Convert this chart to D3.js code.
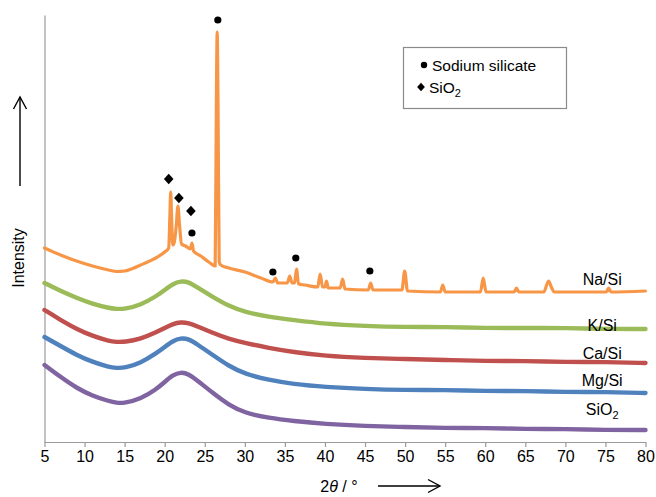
<!DOCTYPE html>
<html><head><meta charset="utf-8">
<script src="https://cdn.jsdelivr.net/npm/d3@7"></script>
<style>
html,body{margin:0;padding:0;background:#fff;}
svg text{font-family:"Liberation Sans",Arial,sans-serif;fill:#000;}
</style></head>
<body><svg id="c" width="656" height="497"></svg>
<script>
// ---- data (2θ in degrees, intensity in arbitrary counts, curves offset for display) ----
const thetaAmorph = [5,7,9,11,13,14,15,17,19,20,21,22,23,24,26,28,30,33,36,40,45,50,55,60,65,70,75,80];
const kSi  = [1590,1510,1440,1380,1340,1330,1330,1370,1460,1520,1580,1610,1600,1550,1450,1360,1300,1250,1220,1180,1160,1150,1150,1140,1140,1140,1130,1130];
const caSi = [1320,1220,1130,1060,1010,1000,1000,1030,1100,1140,1180,1200,1190,1160,1090,1030,990,940,900,860,840,830,820,810,810,800,800,790];
const mgSi = [1050,960,870,800,750,740,740,790,890,950,1010,1040,1030,980,870,760,680,620,580,550,530,520,520,510,510,500,500,490];
const sio2 = [770,650,540,460,410,390,390,430,530,600,670,700,680,620,490,370,290,240,210,180,160,150,140,140,130,130,120,120];

const thetaNa = [5,7,9,11,13,14,15,16,17,18,19,20,20.5,20.65,20.75,20.85,21.0,21.2,21.45,21.65,21.85,22.1,22.6,23.2,23.4,23.6,24.5,25.5,26.3,26.45,26.55,26.65,26.8,27,28,30,32,33.5,33.8,34.1,35.3,35.6,35.9,36.2,36.45,36.7,37.5,39.1,39.4,39.7,40.0,40.2,40.4,41.9,42.2,42.5,45.4,45.7,46.0,49.6,49.95,50.3,54.4,54.7,55.0,59.4,59.75,60.1,63.6,63.9,64.2,67.3,67.9,68.3,68.6,75.1,75.4,75.7,80];
const naSi = [1940,1870,1810,1760,1720,1705,1710,1735,1770,1805,1845,1900,1940,2270,2500,2270,1970,2000,2170,2360,2170,1980,1960,1930,1990,1910,1860,1800,1760,3420,4100,3420,1800,1770,1740,1700,1640,1600,1640,1590,1590,1660,1590,1590,1730,1580,1570,1550,1680,1550,1550,1610,1540,1540,1630,1530,1520,1590,1520,1520,1710,1510,1500,1570,1500,1500,1640,1500,1500,1540,1500,1500,1610,1540,1500,1500,1540,1500,1510];

// markers
const silicateTheta = [26.63, 23.4, 33.5, 36.36, 45.6];
const silicateY     = [4220, 2090, 1700, 1840, 1710];
const quartzTheta   = [20.5, 21.77, 23.27];
const quartzY       = [2630, 2440, 2310];

const xTicks = [5,10,15,20,25,30,35,40,45,50,55,60,65,70,75,80];
const seriesNames = ["Na/Si","K/Si","Ca/Si","Mg/Si","SiO2"];
const colors = ["#F79646","#9BBB59","#C0504D","#4F81BD","#8064A2"];
const labelY = [1570, 1110, 830, 560, 270];

// ---- drawing ----
const svg = d3.select("#c");
const x = d3.scaleLinear().domain([5,80]).range([44.5,645.5]);
const y = d3.scaleLinear().domain([0,4270]).range([442,15]);

// axes
const xAxis = d3.axisBottom(x).tickValues(xTicks).tickSize(5).tickSizeOuter(0).tickPadding(4);
const gx = svg.append("g").attr("transform","translate(0,442)").call(xAxis);
gx.select(".domain").attr("stroke","#9a9a9a").attr("stroke-width",1.2);
gx.selectAll(".tick line").attr("stroke","#9a9a9a").attr("stroke-width",1.2);
gx.selectAll(".tick text").attr("font-size","16px").attr("font-family","Liberation Sans, Arial, sans-serif").attr("fill","#000");

const yAxis = d3.axisLeft(y).tickValues([]).tickSizeOuter(0);
const gy = svg.append("g").attr("transform","translate(44.5,0)").call(yAxis);
gy.select(".domain").attr("stroke","#9a9a9a").attr("stroke-width",1.2);

// curves
const allData = [
  thetaNa.map((t,i)=>[t,naSi[i]]),
  thetaAmorph.map((t,i)=>[t,kSi[i]]),
  thetaAmorph.map((t,i)=>[t,caSi[i]]),
  thetaAmorph.map((t,i)=>[t,mgSi[i]]),
  thetaAmorph.map((t,i)=>[t,sio2[i]])
];
const line = d3.line().x(d=>x(d[0])).y(d=>y(d[1])).curve(d3.curveBasis);
const lineNa = d3.line().x(d=>x(d[0])).y(d=>y(d[1])).curve(d3.curveMonotoneX);
allData.slice().reverse().forEach((d,ri)=>{
  const i = allData.length-1-ri;
  svg.append("path").datum(d)
    .attr("d", i===0 ? lineNa(d) : line(d))
    .attr("fill","none").attr("stroke",colors[i])
    .attr("stroke-width", i===0 ? 3.2 : 4.4)
    .attr("stroke-linejoin","round").attr("stroke-linecap","round");
});

// curve labels
seriesNames.forEach((n,i)=>{
  const t = svg.append("text").attr("x",x(74.6)).attr("y",y(labelY[i]))
    .attr("text-anchor","middle").attr("font-size","16px");
  if(n==="SiO2"){ t.text("SiO"); t.append("tspan").attr("font-size","11px").attr("dy",4).text("2"); }
  else t.text(n);
});

// markers
svg.selectAll("circle.sil").data(silicateTheta).enter().append("circle")
  .attr("cx",(d)=>x(d)).attr("cy",(d,i)=>y(silicateY[i])).attr("r",3.6).attr("fill","#000");
const diamond = d3.symbol().type(d3.symbolSquare).size(46);
svg.selectAll("path.qz").data(quartzTheta).enter().append("path")
  .attr("d",diamond).attr("fill","#000")
  .attr("transform",(d,i)=>`translate(${x(d)},${y(quartzY[i])}) scale(1,1.1) rotate(45)`);

// legend
const lg = svg.append("g");
lg.append("rect").attr("x",403.5).attr("y",47.5).attr("width",163).attr("height",61)
  .attr("fill","#fff").attr("stroke","#8a8a8a").attr("stroke-width",1.2);
lg.append("circle").attr("cx",424).attr("cy",65).attr("r",3.2).attr("fill","#000");
lg.append("text").attr("x",432).attr("y",71).attr("font-size","15.5px").text("Sodium silicate");
lg.append("path").attr("d",d3.symbol().type(d3.symbolSquare).size(30)).attr("fill","#000").attr("transform","translate(421,87) scale(1,1.1) rotate(45)");
const lt = lg.append("text").attr("x",429).attr("y",93).attr("font-size","15.5px").text("SiO");
lt.append("tspan").attr("font-size","11px").attr("dy",4).text("2");

// axis titles and arrows
svg.append("text").attr("transform","translate(24,258) rotate(-90)")
  .attr("text-anchor","middle").attr("font-size","16px").text("Intensity");
const ar = svg.append("g").attr("stroke","#000").attr("stroke-width",1.4).attr("fill","none");
ar.append("line").attr("x1",20).attr("y1",186).attr("x2",20).attr("y2",97);
ar.append("polyline").attr("points","13.5,109 20,97 26.5,109");
ar.append("line").attr("x1",378).attr("y1",486).attr("x2",440).attr("y2",486);
ar.append("polyline").attr("points","428,479.5 440,486 428,492.5");

const xt = svg.append("text").attr("x",339).attr("y",492).attr("text-anchor","middle").attr("font-size","16px");
xt.append("tspan").text("2");
xt.append("tspan").attr("font-style","italic").text("θ");
xt.append("tspan").text(" / °");
</script></body></html>
